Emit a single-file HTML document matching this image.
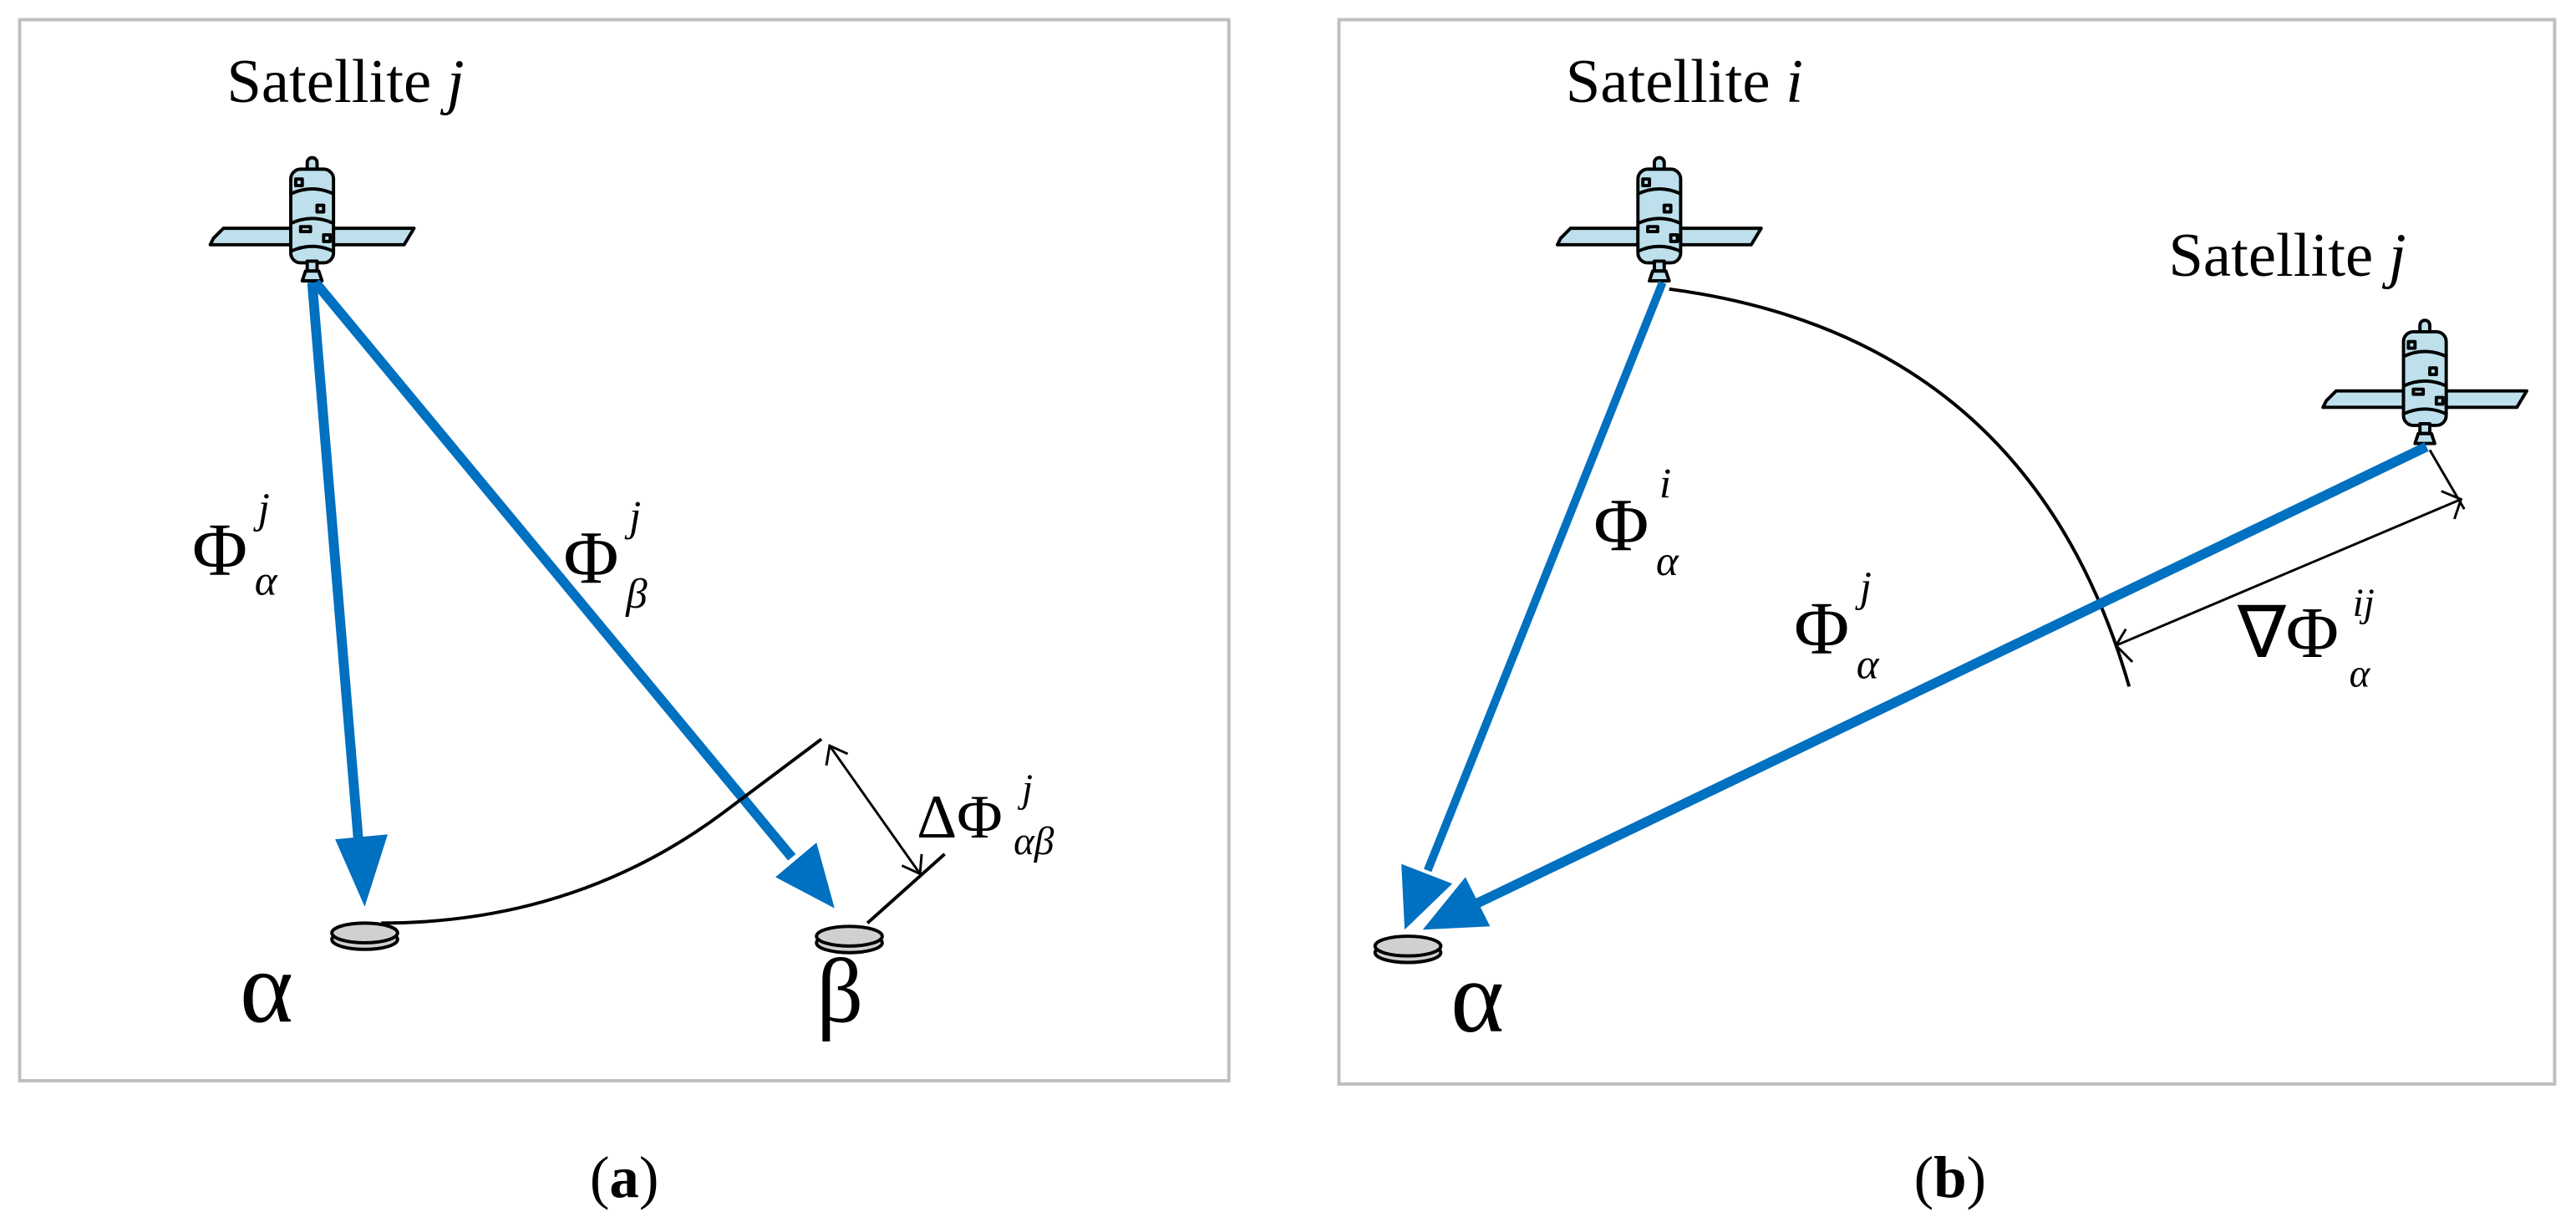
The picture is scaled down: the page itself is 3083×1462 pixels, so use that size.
<!DOCTYPE html>
<html><head><meta charset="utf-8"><style>
html,body{margin:0;padding:0;background:#fff;}
svg{display:block;}
text{font-family:"Liberation Serif",serif;fill:#000;}
</style></head><body>
<svg width="3083" height="1462" viewBox="0 0 1568 744" preserveAspectRatio="none" xmlns="http://www.w3.org/2000/svg">
<defs>
<g id="sat" stroke="#000" stroke-width="2" stroke-linejoin="round">
  <rect x="-3" y="-35" width="6" height="10" rx="3" fill="#bde0ec"/>
  <polygon points="-60,14 -54,8 -13,8 -13,18 -62,18" fill="#bde0ec"/>
  <polygon points="13,8 62,8 56,18 13,18" fill="#bde0ec"/>
  <rect x="-13" y="-28" width="26" height="57" rx="6" fill="#bde0ec"/>
  <path d="M-13,-13 Q0,-19 13,-13 M-13,5 Q0,-1 13,5 M-13,22 Q0,16 13,22" fill="none"/>
  <rect x="-10" y="-22" width="4" height="4" fill="none"/>
  <rect x="3" y="-6" width="4" height="4" fill="none"/>
  <rect x="-7" y="7" width="6" height="3" fill="none"/>
  <rect x="7" y="12" width="4" height="4" fill="none"/>
  <rect x="-3" y="28" width="6" height="6" fill="#bde0ec"/>
  <path d="M-6,40 L-4,34 L4,34 L6,40 Z" fill="#bde0ec"/>
</g>
<g id="disc" stroke="#000" stroke-width="2">
  <ellipse cx="0" cy="4" rx="20" ry="6" fill="#d0d0d0"/>
  <ellipse cx="0" cy="0" rx="20" ry="6" fill="#d0d0d0"/>
</g>
</defs>

<!-- Panel a -->
<rect x="12" y="12" width="736" height="646" fill="none" stroke="#bfbfbf" stroke-width="2"/>
<text x="138" y="62" font-size="38">Satellite <tspan font-style="italic">j</tspan></text>
<use href="#sat" x="190" y="131"/>
<line x1="190" y1="172" x2="218" y2="510" stroke="#0070C0" stroke-width="6"/>
<polygon points="222,552 236,508 204,511" fill="#0070C0"/>
<line x1="192" y1="172" x2="482" y2="522" stroke="#0070C0" stroke-width="6"/>
<polygon points="508,553 497,513 472,534" fill="#0070C0"/>
<path d="M232,562 Q350,562 440,495 L500,450" fill="none" stroke="#000" stroke-width="2"/>
<line x1="528" y1="562" x2="575" y2="520" stroke="#000" stroke-width="2"/>
<line x1="505" y1="454" x2="560" y2="532" stroke="#000" stroke-width="1.5"/>
<path d="M503,466 L505,454 L516,459 M549,527 L560,532 L561,520" fill="none" stroke="#000" stroke-width="1.5"/>
<use href="#disc" x="222" y="568"/>
<use href="#disc" x="517" y="570"/>
<text x="146" y="622" font-size="62">α</text>
<text x="497" y="622" font-size="56">β</text>
<text x="117" y="350" font-size="46">Φ</text>
<text x="157" y="318" font-size="26" font-style="italic">j</text>
<text x="155" y="362" font-size="26" font-style="italic">α</text>
<text x="343" y="355" font-size="46">Φ</text>
<text x="383" y="323" font-size="26" font-style="italic">j</text>
<text x="381" y="370" font-size="26" font-style="italic">β</text>
<text x="558" y="510" font-size="38">ΔΦ</text>
<text x="622" y="488" font-size="24" font-style="italic">j</text>
<text x="617" y="520" font-size="24" font-style="italic">αβ</text>
<text x="359" y="729" font-size="36">(<tspan font-weight="bold">a</tspan>)</text>

<!-- Panel b -->
<rect x="815" y="12" width="740" height="648" fill="none" stroke="#bfbfbf" stroke-width="2"/>
<text x="953" y="62" font-size="38">Satellite <tspan font-style="italic">i</tspan></text>
<text x="1320" y="168" font-size="38">Satellite <tspan font-style="italic">j</tspan></text>
<use href="#sat" x="1010" y="131"/>
<use href="#sat" x="1476" y="230"/>
<path d="M1016,176 Q1235,205 1296,418" fill="none" stroke="#000" stroke-width="2"/>
<line x1="1479" y1="274" x2="1500" y2="310" stroke="#000" stroke-width="1.5"/>
<line x1="1288" y1="393" x2="1498" y2="304" stroke="#000" stroke-width="1.5"/>
<path d="M1294,383 L1288,393 L1298,403 M1486,299 L1498,304 L1494,316" fill="none" stroke="#000" stroke-width="1.5"/>
<line x1="1012" y1="172" x2="869" y2="530" stroke="#0070C0" stroke-width="5"/>
<polygon points="855,566 884,538 853,526" fill="#0070C0"/>
<line x1="1477" y1="272" x2="897" y2="551" stroke="#0070C0" stroke-width="6"/>
<polygon points="866,566 907,564 892,534" fill="#0070C0"/>
<use href="#disc" x="857" y="576"/>
<text x="883" y="628" font-size="62">α</text>
<text x="970" y="335" font-size="46">Φ</text>
<text x="1010" y="303" font-size="26" font-style="italic">i</text>
<text x="1008" y="350" font-size="26" font-style="italic">α</text>
<text x="1092" y="398" font-size="46">Φ</text>
<text x="1132" y="366" font-size="26" font-style="italic">j</text>
<text x="1130" y="413" font-size="26" font-style="italic">α</text>
<text x="1362" y="400" font-size="44">∇Φ</text>
<text x="1432" y="375" font-size="24" font-style="italic">ij</text>
<text x="1430" y="418" font-size="24" font-style="italic">α</text>
<text x="1165" y="729" font-size="36">(<tspan font-weight="bold">b</tspan>)</text>
</svg>
</body></html>
